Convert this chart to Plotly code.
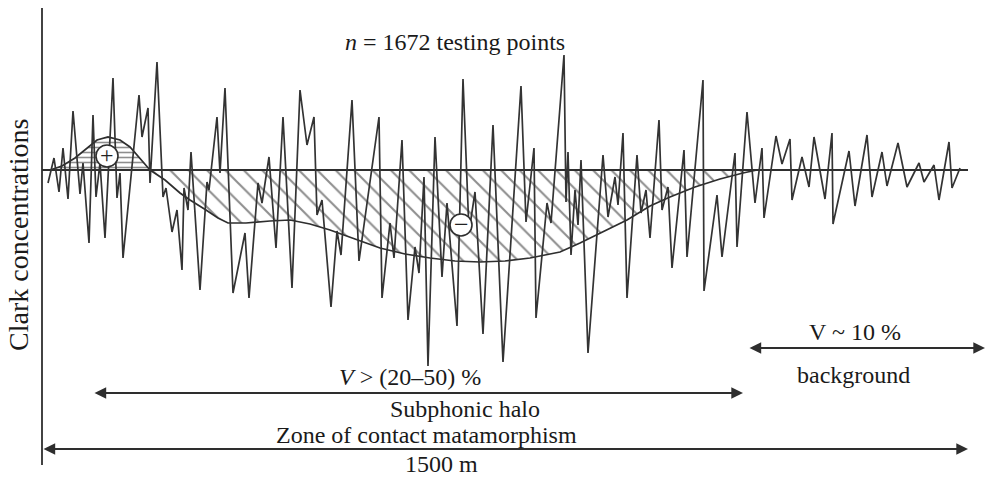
import plotly.graph_objects as go

# Profile position (arbitrary profile units, 0..926 = 1500 m) and deviation from Clark level
dist = [6, 12, 17, 21, 26, 31, 38, 41, 47, 51, 54, 58, 63, 71, 75, 78, 81, 97, 100, 106, 108, 115,
        121, 124, 130, 135, 140, 142, 146, 149, 158, 165, 167, 175, 178, 183, 191, 203, 207, 216,
        220, 227, 234, 241, 250, 258, 265, 272, 275, 280, 289, 295, 299, 310, 317, 337, 340, 348,
        352, 360, 366, 373, 377, 382, 386, 393, 400, 405, 415, 421, 427, 433, 441, 451, 461, 479,
        484, 492, 494, 505, 509, 522, 524, 526, 529, 533, 536, 539, 546, 561, 566, 573, 576, 581,
        585, 595, 599, 604, 608, 617, 620, 626, 630, 642, 645, 661, 662, 675, 680, 693, 695, 705,
        713, 720, 722, 734, 740, 748, 750, 760, 767, 772, 783, 790, 791, 807, 813, 825, 830, 840,
        845, 856, 865, 877, 882, 892, 897, 907, 910, 918]
conc = [-13, 12, -22, 22, -29, 59, -24, 7, -73, 55, -27, 7, -68, 92, -28, -3, -88, 75, 33, 62, -13, 108,
        -27, -18, -62, -40, -100, -18, -40, 18, -120, -12, -20, 53, -3, 82, -123, -63, -128, -13,
        -33, 13, -78, 53, -118, 80, 25, 53, -45, -30, -137, -61, -85, 70, -91, 53, -128, -53,
        -88, 30, -150, -77, -103, -7, -196, 33, -107, -33, -156, 91, -62, -22, -164, 45, -192, 84,
        -52, 22, -148, -33, -53, 115, -32, 18, -85, -20, -55, 10, -183, 15, -47, -7, -35, 37,
        -128, 15, -43, -20, -68, 50, -40, -17, -98, 20, -87, 90, -121, -25, -87, 17, -77, 58,
        -33, 22, -48, 34, 6, 31, -30, 13, -17, 33, -29, 37, -54, 19, -36, 35, -27, 18,
        -16, 27, -17, 7, -12, 5, -30, 28, -18, 2]

# Smoothed envelopes: positive anomaly (+) and negative anomaly (-)
pos_x = [8, 20, 33, 45, 55, 66, 78, 88, 98, 108]
pos_y = [0, 4, 12, 22, 30, 33, 30, 23, 12, 0]
neg_x = [108, 123, 138, 148, 164, 176, 186, 204, 228, 248, 268, 288, 313, 338, 363, 388, 413, 438,
         463, 488, 503, 518, 538, 558, 585, 608, 628, 653, 678, 701, 715]
neg_y = [0, -10, -23, -30, -40, -48, -53, -53, -51, -50, -54, -60, -69, -78, -84, -88, -91, -92,
         -91, -88, -85, -82, -73, -63, -50, -36, -27, -17, -9, -3, 0]

profile_end = 926

INK = "#2e2e2e"
FONT = "Liberation Serif"

fig = go.Figure()

# negative zone (diagonal hatch)
fig.add_trace(go.Scatter(
    x=neg_x + [neg_x[0]], y=neg_y + [neg_y[0]], mode="lines", fill="toself",
    fillcolor="rgba(0,0,0,0)", line=dict(color=INK, width=1.7),
    fillpattern=dict(shape="\\", size=13, solidity=0.16, fgcolor="#1e1e1e", bgcolor="white"),
    hoverinfo="skip", showlegend=False))
# positive zone (horizontal hatch)
fig.add_trace(go.Scatter(
    x=pos_x + [pos_x[0]], y=pos_y + [pos_y[0]], mode="lines", fill="toself",
    fillcolor="rgba(0,0,0,0)", line=dict(color=INK, width=1.7),
    fillpattern=dict(shape="-", size=5, solidity=0.32, fgcolor="#1e1e1e", bgcolor="white"),
    hoverinfo="skip", showlegend=False))
# baseline (Clark level)
fig.add_trace(go.Scatter(x=[0, profile_end], y=[0, 0], mode="lines",
                         line=dict(color=INK, width=1.8), hoverinfo="skip", showlegend=False))
# measured profile
fig.add_trace(go.Scatter(x=dist, y=conc, mode="lines",
                         line=dict(color="#333333", width=1.7), hoverinfo="skip", showlegend=False))

# vertical axis line
fig.add_shape(type="line", x0=0, x1=0, y0=162, y1=-295, line=dict(color=INK, width=1.8))

# circles with signs
for cx, cy in [(65, 14), (419, -55)]:
    fig.add_shape(type="circle", x0=cx - 11, x1=cx + 11, y0=cy - 11, y1=cy + 11,
                  fillcolor="white", line=dict(color=INK, width=1.6), layer="above")
fig.add_annotation(x=65, y=15, text="+", showarrow=False, font=dict(family=FONT, size=24, color="#222"))
fig.add_annotation(x=419, y=-54, text="−", showarrow=False, font=dict(family=FONT, size=26, color="#222"))

# double arrows
for x0, x1, yy in [(0, profile_end, -279), (51, 701, -223), (706, 943, -178)]:
    fig.add_annotation(x=x1, y=yy, ax=x0, ay=yy, xref="x", yref="y", axref="x", ayref="y",
                       text="", showarrow=True, arrowside="end+start", arrowhead=2,
                       arrowsize=1.3, arrowwidth=1.8, arrowcolor=INK, standoff=0, startstandoff=0)

txt = dict(family=FONT, size=24, color="#1a1a1a")
fig.add_annotation(x=413, y=128, text="<i>n</i> = 1672 testing points", showarrow=False, font=txt)
fig.add_annotation(x=813, y=-162, text="V ~ 10 %", showarrow=False, font=txt)
fig.add_annotation(x=811, y=-205, text="background", showarrow=False, font=txt)
fig.add_annotation(x=368, y=-207, text="<i>V</i> > (20–50) %", showarrow=False, font=txt)
fig.add_annotation(x=423, y=-239, text="Subphonic halo", showarrow=False, font=txt, borderpad=0)
fig.add_annotation(x=384, y=-265, text="Zone of contact matamorphism", showarrow=False, font=txt,
                   borderpad=0)
fig.add_annotation(x=399, y=-294, text="1500 m", showarrow=False, font=txt, borderpad=0)
fig.add_annotation(x=-24, y=-65, text="Clark concentrations", showarrow=False, textangle=-90,
                   font=dict(family=FONT, size=28, color="#1a1a1a"))

fig.update_layout(
    width=986, height=479, margin=dict(l=0, r=0, t=0, b=0),
    paper_bgcolor="white", plot_bgcolor="white",
    xaxis=dict(range=[-42, 944], visible=False, fixedrange=True),
    yaxis=dict(range=[-309, 170], visible=False, fixedrange=True),
)

fig.write_html("out.html")
